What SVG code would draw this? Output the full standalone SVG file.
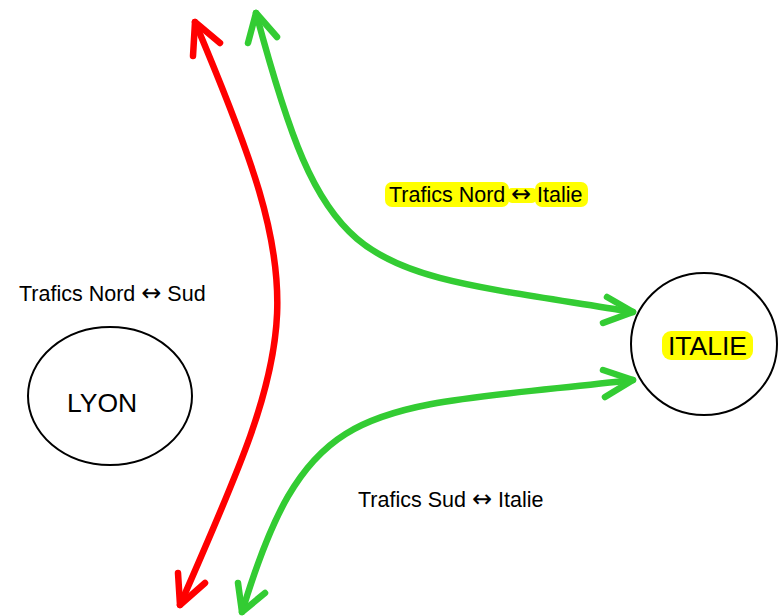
<svg xmlns="http://www.w3.org/2000/svg" width="779" height="616" viewBox="0 0 779 616">
<style>
.node{fill:#fff;stroke:#000;stroke-width:2}
.lbl{font-family:"Liberation Sans",Arial,sans-serif;font-size:21.5px;fill:#000}
.arr{font-family:"DejaVu Sans",sans-serif;font-size:24px}
.big{font-family:"Liberation Sans",Arial,sans-serif;font-size:26.5px;fill:#000}
.hl{fill:#ffff00}
.c{fill:none;stroke-width:6.5;stroke-linecap:round;stroke-linejoin:round}
.red{stroke:#ff0000}
.green{stroke:#33cc33}
</style>
<rect width="779" height="616" fill="#fff"/>
<g id="lyon">
<ellipse class="node" cx="110" cy="396" rx="82" ry="69"/>
<text class="big" x="67" y="412">LYON</text>
</g>
<g id="italie">
<ellipse class="node" cx="704" cy="344" rx="73" ry="71"/>
<rect class="hl" x="662" y="331" width="91" height="29" rx="9"/>
<text class="big" x="668" y="355">ITALIE</text>
</g>
<g id="connectors">
<path class="c red" d="M195,22 C312,299 301.9,328 180,605"/>
<path class="c red" d="M193,56 L195,22 L220,43"/>
<path class="c red" d="M178,573 L180,605 L205,583"/>
<path class="c green" d="M256,13 C328.8,284.6 357,267 633,312"/>
<path class="c green" d="M248,43 L256,13 L277,37"/>
<path class="c green" d="M607,297 L633,312 L603,323"/>
<path class="c green" d="M633,380 C364.9,410.5 308.7,392 242,612"/>
<path class="c green" d="M603,370 L633,380 L605,397"/>
<path class="c green" d="M238,583 L242,612 L265,593"/>
</g>
<g id="labels">
<text class="lbl" x="19" y="301">Trafics Nord <tspan class="arr">↔</tspan> Sud</text>
<text class="lbl" x="358" y="507">Trafics Sud <tspan class="arr">↔</tspan> Italie</text>
<rect class="hl" x="385" y="182" width="124" height="25" rx="7"/>
<rect class="hl" x="507" y="188" width="30" height="15" rx="5"/>
<rect class="hl" x="535" y="182" width="53" height="25" rx="7"/>
<text class="lbl" x="389" y="202">Trafics Nord<tspan class="arr" x="511">↔</tspan><tspan x="537">Italie</tspan></text>
</g>
</svg>
